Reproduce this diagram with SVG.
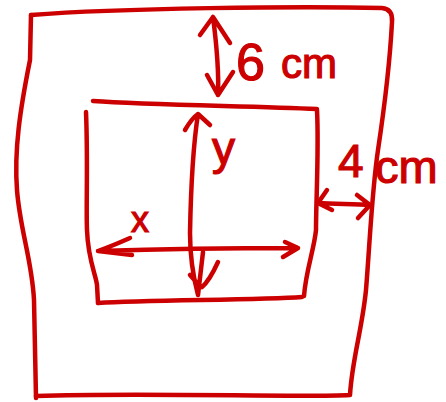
<svg xmlns="http://www.w3.org/2000/svg" width="446" height="402" viewBox="0 0 446 402">
<style>
.ink{fill:none;stroke:#cc0000;stroke-width:4.5;stroke-linecap:round;stroke-linejoin:round}
.lbl{fill:#cc0000;stroke:#cc0000;stroke-width:1.2;font-family:"Liberation Sans","DejaVu Sans",sans-serif}
</style>
<rect width="446" height="402" fill="#ffffff"/>
<g id="outer-square">
<path class="ink" d="M31,15 C120,8 300,6 382,8 Q393,9 392,22 C390,60 384,110 378,150 C372,190 370,240 366,290 C362,330 352,360 350,395 C300,398 150,392 36,396"/>
<path class="ink" d="M31,15 L30,60 C20,110 14,150 17,190 C20,230 32,260 34,300 L36,398"/>
</g>
<g id="inner-rect">
<path class="ink" d="M93,101 C150,105 250,106 317,109"/>
<path class="ink" d="M317,110 C319,150 316,200 316,230 C314,250 306,270 304,296"/>
<path class="ink" d="M302,297 C260,300 150,300 98,303"/>
<path class="ink" d="M86,112 C88,160 86,210 87,230 C88,260 96,275 97,285 L98,303"/>
</g>
<g id="connectors">
<path id="arrow-6cm" class="ink" d="M213,17 C216,40 219,70 218,95 M200,35 L213,17 L230,43 M207,75 L218,95 L233,72"/>
<path id="arrow-4cm" class="ink" d="M318,203 C335,204 355,204 370,205 M327,190 L318,203 L332,210 M357,195 L370,205 L358,218"/>
<path id="arrow-y" class="ink" d="M198,114 C194,140 191,180 190,233 C190,260 194,280 198,295 M185,130 Q192,118 198,114 L210,125 M190,275 L198,284 M218,262 C212,275 207,283 202,287 M203,252 L198,295"/>
<path id="arrow-x" class="ink" d="M98,251 C160,249 240,248 298,248 M130,238 Q112,246 98,251 L132,255 M285,242 L298,248 L283,257"/>
</g>
<g id="labels">
<text class="lbl" x="236" y="80" font-size="52"><tspan>6</tspan> <tspan x="281" y="78" font-size="42">cm</tspan></text>
<text class="lbl" x="338" y="177" font-size="46"><tspan>4</tspan> <tspan x="375" y="183" font-size="47">cm</tspan></text>
<text class="lbl" x="212" y="164" font-size="46">y</text>
<text class="lbl" x="131" y="232" font-size="36">x</text>
</g>
</svg>
